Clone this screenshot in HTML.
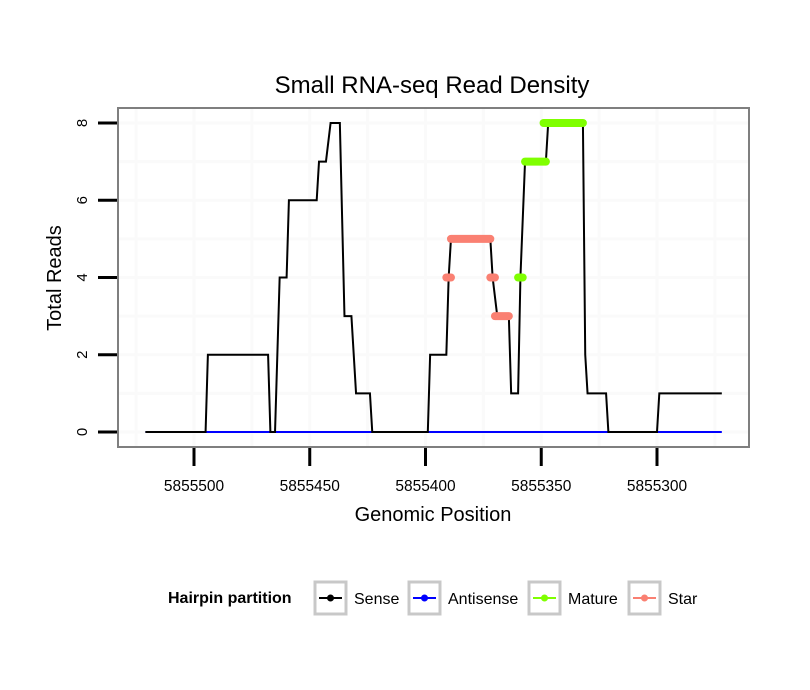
<!DOCTYPE html>
<html><head><meta charset="utf-8"><style>
html,body{margin:0;padding:0;background:#fff;}
svg{display:block;font-family:"Liberation Sans",Arial,sans-serif;}
</style></head><body>
<svg id="chart" width="810" height="690" viewBox="0 0 810 690" xmlns="http://www.w3.org/2000/svg">
<rect x="0" y="0" width="810" height="690" fill="#fff"/>
<text x="432" y="93" font-size="24" text-anchor="middle" fill="#000">Small RNA-seq Read Density</text>
<rect x="118" y="108" width="631" height="339" fill="#fff"/>
<g id="grid"></g>
<g id="marks"></g>
<rect x="118" y="108" width="631" height="339" fill="none" stroke="#7f7f7f" stroke-width="2"/>
<g id="axes"></g>
<text x="433" y="521" font-size="20" text-anchor="middle">Genomic Position</text>
<text transform="translate(61,278) rotate(-90)" font-size="20" text-anchor="middle">Total Reads</text>
<g>
<text x="168" y="603" font-size="16" font-weight="bold">Hairpin partition</text>
<g>
<rect x="315" y="582" width="31" height="32" fill="#fff" stroke="#c8c8c8" stroke-width="3"/>
<line x1="319" y1="598" x2="342" y2="598" stroke="#000" stroke-width="2"/><circle cx="330.5" cy="598" r="3.5" fill="#000"/>
<text x="354" y="604" font-size="16">Sense</text></g>
<g>
<rect x="409" y="582" width="31" height="32" fill="#fff" stroke="#c8c8c8" stroke-width="3"/>
<line x1="413" y1="598" x2="436" y2="598" stroke="#0000ff" stroke-width="2"/><circle cx="424.5" cy="598" r="3.5" fill="#0000ff"/>
<text x="448" y="604" font-size="16">Antisense</text></g>
<g>
<rect x="529" y="582" width="31" height="32" fill="#fff" stroke="#c8c8c8" stroke-width="3"/>
<line x1="533" y1="598" x2="556" y2="598" stroke="#7fff00" stroke-width="2"/><circle cx="544.5" cy="598" r="3.5" fill="#7fff00"/>
<text x="568" y="604" font-size="16">Mature</text></g>
<g>
<rect x="629" y="582" width="31" height="32" fill="#fff" stroke="#c8c8c8" stroke-width="3"/>
<line x1="633" y1="598" x2="656" y2="598" stroke="#fa8072" stroke-width="2"/><circle cx="644.5" cy="598" r="3.5" fill="#fa8072"/>
<text x="668" y="604" font-size="16">Star</text></g>
</g>
</svg>
<script>
// Sense track vertices (genomic position, reads)
const sensePos = [5855521,5855495,5855494,5855468,5855467,5855465,5855463,5855460,5855459,5855447,5855446,5855443,5855441,5855437,5855435,5855432,5855430,5855424,5855423,5855399,5855398,5855391,5855390,5855389,5855372,5855371,5855369,5855364,5855363,5855360,5855359,5855357,5855348,5855347,5855332,5855331,5855330,5855322,5855321,5855300,5855299,5855272];
const senseReads = [0,0,2,2,0,0,4,4,6,6,7,7,8,8,3,3,1,1,0,0,2,2,4,5,5,4,3,3,1,1,4,7,7,8,8,2,1,1,0,0,1,1];
const antisensePos = [5855521,5855272];
const antisenseReads = [0,0];
// Star segments: start, end, reads
const starStart = [5855391,5855389,5855372,5855370];
const starEnd = [5855389,5855372,5855370,5855364];
const starReads = [4,5,4,3];
const matureStart = [5855360,5855357,5855349];
const matureEnd = [5855358,5855348,5855332];
const matureReads = [4,7,8];
const xTicks = [5855500,5855450,5855400,5855350,5855300];
const yTicks = [0,2,4,6,8];
const xGrid = [5855525,5855475,5855425,5855375,5855325,5855275];
const yGrid = [1,3,5,7];

const NS = "http://www.w3.org/2000/svg";
function xs(p){ return 194 + (5855500 - p) * 2.315; }
function ys(v){ return 432 - v * 38.625; }
function mk(tag, attrs, parent){
  const e = document.createElementNS(NS, tag);
  for (const k in attrs) e.setAttribute(k, attrs[k]);
  parent.appendChild(e); return e;
}
const grid = document.getElementById('grid');
const marks = document.getElementById('marks');
const axes = document.getElementById('axes');
xGrid.concat(xTicks).forEach(p => {
  const l = mk('line', {x1:xs(p), x2:xs(p), y1:109, y2:446, stroke:'#fafafa', 'stroke-width':3}, grid);
  
  
});
yGrid.concat(yTicks).forEach(v => {
  const l = mk('line', {x1:119, x2:748, y1:ys(v), y2:ys(v), stroke:'#fafafa', 'stroke-width':3}, grid);
  
  
});
const anti = mk('polyline', {points: antisensePos.map((p,i)=>xs(p)+','+ys(antisenseReads[i])).join(' '), fill:'none', stroke:'#0000ff', 'stroke-width':2}, marks);


const sense = mk('polyline', {points: sensePos.map((p,i)=>xs(p)+','+ys(senseReads[i])).join(' '), fill:'none', stroke:'#000', 'stroke-width':2}, marks);


starStart.forEach((s,i) => {
  const l = mk('line', {x1:xs(s), x2:xs(starEnd[i]), y1:ys(starReads[i]), y2:ys(starReads[i]), stroke:'#fa8072', 'stroke-width':8, 'stroke-linecap':'round'}, marks);
  
  
});
matureStart.forEach((s,i) => {
  const l = mk('line', {x1:xs(s), x2:xs(matureEnd[i]), y1:ys(matureReads[i]), y2:ys(matureReads[i]), stroke:'#7fff00', 'stroke-width':8, 'stroke-linecap':'round'}, marks);
  
  
});
xTicks.forEach(p => {
  const t = mk('line', {x1:xs(p), x2:xs(p), y1:448, y2:466, stroke:'#000', 'stroke-width':3}, axes);
  
  
  const tx = mk('text', {x:xs(p), y:491, 'font-size':15.5, 'text-anchor':'middle'}, axes);
  tx.textContent = p;
  
  
});
yTicks.forEach(v => {
  const t = mk('line', {x1:98, x2:117, y1:ys(v), y2:ys(v), stroke:'#000', 'stroke-width':3}, axes);
  
  
  const tx = mk('text', {transform:'translate(87,'+ys(v)+') rotate(-90)', 'font-size':15, 'text-anchor':'middle'}, axes);
  tx.textContent = v;
  
  
});
</script>
</body></html>
